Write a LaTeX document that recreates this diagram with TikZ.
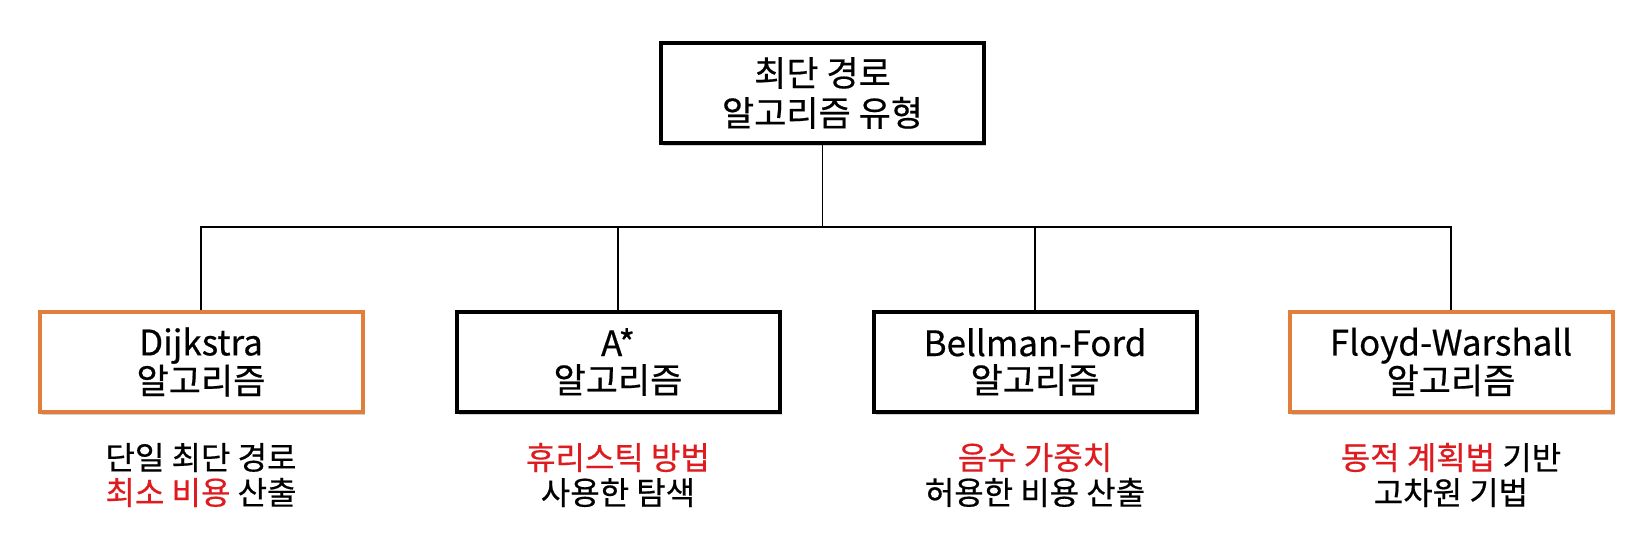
\documentclass[tikz,border=0pt]{standalone}
\usepackage{fontspec}
\setmainfont{Noto Sans CJK KR}[FakeBold=0.5]
\usetikzlibrary{positioning}
\usetikzlibrary{shadows}
\definecolor{rahmenorange}{RGB}{226,126,60}
\definecolor{hervorrot}{RGB}{222,28,32}

\begin{document}
\begin{tikzpicture}[x=1pt, y=-1pt, % 1 Einheit = 1 Pixel der Vorlage
  kasten/.style={draw=black, line width=4pt, fill=white, minimum width=323pt, minimum height=100pt,
    align=center, font=\fontsize{35}{37}\selectfont,
    drop shadow={shadow xshift=2pt, shadow yshift=-3pt, opacity=0.18, fill=black}},
  orangekasten/.style={kasten, draw=rahmenorange},
  notiz/.style={align=center, font=\fontsize{32}{35}\selectfont},
  verbinder/.style={line width=1.6pt}]
\useasboundingbox (0,0) rectangle (1647,551);
% Wurzel
\node[kasten, font=\fontsize{35}{40}\selectfont] (wurzel) at (822.5,93) {최단 경로\\알고리즘 유형};
% Algorithmen
\node[orangekasten] (dijkstra) at (201,362) {Dijkstra\\알고리즘};
\node[kasten] (astern) at (618,362) {A*\\알고리즘};
\node[kasten] (bellman) at (1035,362) {Bellman-Ford\\알고리즘};
\node[orangekasten] (floyd) at (1451,362) {Floyd-Warshall\\알고리즘};
% Verzweigung
\coordinate (knoten) at (822.5,227);
\draw[verbinder] (wurzel.south) -- (knoten);
\foreach \n in {dijkstra, astern, bellman, floyd} {
  \draw[verbinder] (\n.north) |- (knoten); % senkrecht hoch, dann waagerecht
}
% Beschreibungen unten
\node[notiz] (dijkstratext) at (201,475) {단일 최단 경로\\\textcolor{hervorrot}{최소 비용} 산출};
\node[notiz] (asterntext) at (618,475) {\textcolor{hervorrot}{휴리스틱 방법}\\사용한 탐색};
\node[notiz] (bellmantext) at (1035,475) {\textcolor{hervorrot}{음수 가중치}\\허용한 비용 산출};
\node[notiz] (floydtext) at (1451,475) {\textcolor{hervorrot}{동적 계획법} 기반\\고차원 기법};
\end{tikzpicture}
\end{document}
